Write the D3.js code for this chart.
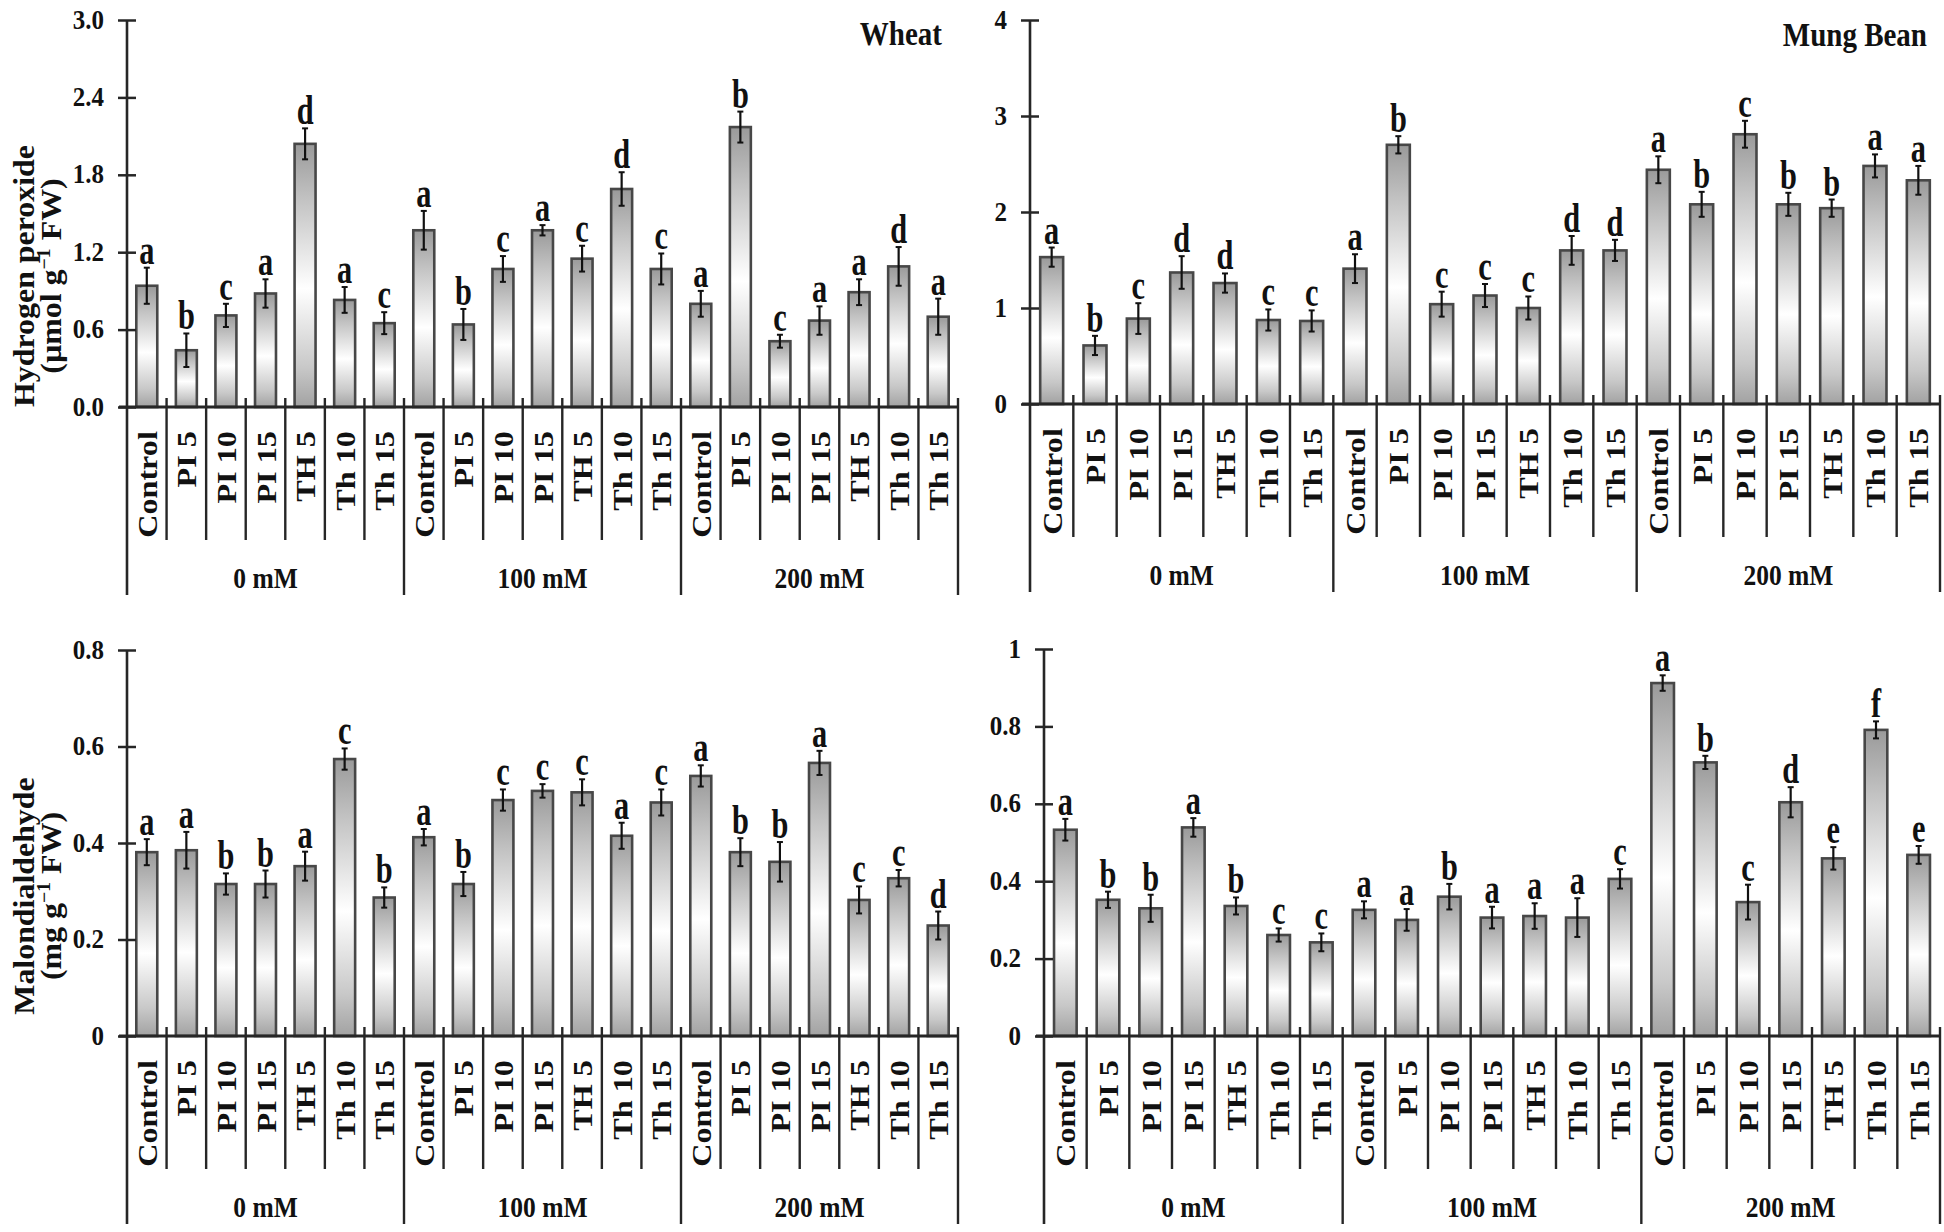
<!DOCTYPE html>
<html><head><meta charset="utf-8">
<script src="https://cdn.jsdelivr.net/npm/d3@7"></script>
<style>
html,body{margin:0;padding:0;background:#fff;}
svg{display:block;}
text{font-family:"Liberation Serif","Times New Roman",Times,serif;font-weight:bold;fill:#111;}
</style></head><body>
<svg id="chart" width="1944" height="1232"></svg>
<script>
// ---------- DATA ----------
const categories = ["Control","PI 5","PI 10","PI 15","TH 5","Th 10","Th 15"];
const salinityLevels = ["0 mM","100 mM","200 mM"];

const wheatH2O2 = [0.94,0.44,0.71,0.88,2.04,0.83,0.65, 1.37,0.64,1.07,1.37,1.15,1.69,1.07, 0.80,2.17,0.51,0.67,0.89,1.09,0.70];
const wheatH2O2Err = [0.14,0.13,0.09,0.11,0.12,0.10,0.085, 0.15,0.12,0.10,0.04,0.10,0.13,0.12, 0.10,0.12,0.05,0.11,0.10,0.15,0.14];
const wheatH2O2Letters = ["a","b","c","a","d","a","c", "a","b","c","a","c","d","c", "a","b","c","a","a","d","a"];

const mungH2O2 = [1.53,0.61,0.89,1.37,1.26,0.875,0.865, 1.41,2.70,1.04,1.13,1.00,1.60,1.60, 2.44,2.08,2.81,2.08,2.04,2.48,2.33];
const mungH2O2Err = [0.10,0.10,0.16,0.17,0.10,0.11,0.11, 0.15,0.09,0.13,0.12,0.12,0.15,0.11, 0.14,0.13,0.14,0.12,0.09,0.12,0.15];
const mungH2O2Letters = ["a","b","c","d","d","c","c", "a","b","c","c","c","d","d", "a","b","c","b","b","a","a"];

const wheatMDA = [0.381,0.385,0.315,0.315,0.352,0.574,0.287, 0.412,0.315,0.489,0.508,0.505,0.415,0.484, 0.539,0.381,0.361,0.566,0.282,0.327,0.229];
const wheatMDAErr = [0.027,0.038,0.022,0.028,0.030,0.022,0.021, 0.017,0.025,0.022,0.014,0.027,0.027,0.027, 0.022,0.029,0.041,0.025,0.028,0.017,0.029];
const wheatMDALetters = ["a","a","b","b","a","c","b", "a","b","c","c","c","a","c", "a","b","b","a","c","c","d"];

const mungMDA = [0.533,0.352,0.330,0.539,0.336,0.261,0.242, 0.326,0.300,0.360,0.306,0.310,0.306,0.406, 0.912,0.707,0.346,0.604,0.459,0.791,0.468];
const mungMDAErr = [0.028,0.021,0.035,0.024,0.022,0.017,0.023, 0.022,0.028,0.033,0.028,0.033,0.050,0.025, 0.020,0.017,0.045,0.039,0.029,0.022,0.023];
const mungMDALetters = ["a","b","b","a","b","c","c", "a","a","b","a","a","a","c", "a","b","c","d","e","f","e"];

const h2o2WheatTicks = [0,0.6,1.2,1.8,2.4,3.0];
const h2o2WheatTickLabels = ["0.0","0.6","1.2","1.8","2.4","3.0"];
const h2o2MungTicks = [0,1,2,3,4];
const h2o2MungTickLabels = ["0","1","2","3","4"];
const mdaWheatTicks = [0,0.2,0.4,0.6,0.8];
const mdaWheatTickLabels = ["0","0.2","0.4","0.6","0.8"];
const mdaMungTicks = [0,0.2,0.4,0.6,0.8,1];
const mdaMungTickLabels = ["0","0.2","0.4","0.6","0.8","1"];

const h2o2Title = ["Hydrogen peroxide", "(µmol g", "−1", " FW)"];
const mdaTitle = ["Malondialdehyde", "(mg g", "−1", " FW)"];

// ---------- LAYOUT ----------
const svg = d3.select("#chart");
const defs = svg.append("defs");
const grad = defs.append("linearGradient").attr("id","barGrad")
  .attr("x1",0).attr("y1",0).attr("x2",0).attr("y2",1);
grad.append("stop").attr("offset","0%").attr("stop-color","#9a9a9a");
grad.append("stop").attr("offset","22%").attr("stop-color","#c4c4c4");
grad.append("stop").attr("offset","55%").attr("stop-color","#ffffff");
grad.append("stop").attr("offset","85%").attr("stop-color","#c8c8c8");
grad.append("stop").attr("offset","100%").attr("stop-color","#a2a2a2");

const panels = [
  {values:wheatH2O2, errors:wheatH2O2Err, letters:wheatH2O2Letters, ticks:h2o2WheatTicks, tickLabels:h2o2WheatTickLabels,
   max:3.0, x0:127, x1:958, yTop:20, yBase:407, title:"Wheat", titleX:942, titleY:45, yTitle:h2o2Title, yTitleC:276},
  {values:mungH2O2, errors:mungH2O2Err, letters:mungH2O2Letters, ticks:h2o2MungTicks, tickLabels:h2o2MungTickLabels,
   max:4, x0:1030, x1:1940, yTop:20, yBase:404, title:"Mung Bean", titleX:1927, titleY:46},
  {values:wheatMDA, errors:wheatMDAErr, letters:wheatMDALetters, ticks:mdaWheatTicks, tickLabels:mdaWheatTickLabels,
   max:0.8, x0:127, x1:958, yTop:650, yBase:1036, yTitle:mdaTitle, yTitleC:896},
  {values:mungMDA, errors:mungMDAErr, letters:mungMDALetters, ticks:mdaMungTicks, tickLabels:mdaMungTickLabels,
   max:1, x0:1044, x1:1940, yTop:649, yBase:1036}
];

const AX = "#262626";

function drawPanel(p){
  const n = p.values.length;
  const g = svg.append("g");
  const slots = d3.scaleBand().domain(d3.range(n)).range([p.x0,p.x1]).padding(0);
  const bars = d3.scaleBand().domain(d3.range(n)).range([p.x0,p.x1]).paddingInner(0.47).paddingOuter(0.235);
  const y = d3.scaleLinear().domain([0,p.max]).range([p.yBase,p.yTop]);
  const cx = i => bars(i) + bars.bandwidth()/2;

  // bars
  g.selectAll("rect.bar").data(p.values).join("rect").attr("class","bar")
    .attr("x",(d,i)=>bars(i)).attr("y",d=>y(d))
    .attr("width",bars.bandwidth()).attr("height",d=>p.yBase-y(d))
    .attr("fill","url(#barGrad)").attr("stroke","#474747").attr("stroke-width",2.6);

  // error bars
  const eg = g.selectAll("g.err").data(p.values).join("g").attr("class","err");
  eg.append("line").attr("x1",(d,i)=>cx(i)).attr("x2",(d,i)=>cx(i))
    .attr("y1",(d,i)=>y(d-p.errors[i])).attr("y2",(d,i)=>y(d+p.errors[i]))
    .attr("stroke","#111").attr("stroke-width",2.2);
  eg.append("line").attr("x1",(d,i)=>cx(i)-3).attr("x2",(d,i)=>cx(i)+3)
    .attr("y1",(d,i)=>y(d+p.errors[i])).attr("y2",(d,i)=>y(d+p.errors[i]))
    .attr("stroke","#111").attr("stroke-width",2);
  eg.append("line").attr("x1",(d,i)=>cx(i)-3).attr("x2",(d,i)=>cx(i)+3)
    .attr("y1",(d,i)=>y(d-p.errors[i])).attr("y2",(d,i)=>y(d-p.errors[i]))
    .attr("stroke","#111").attr("stroke-width",2);

  // significance letters
  g.selectAll("text.sig").data(p.values).join("text").attr("class","sig")
    .attr("transform",(d,i)=>`translate(${cx(i)},${y(d+p.errors[i])-4}) scale(0.92,1.27)`)
    .attr("text-anchor","middle").attr("font-size",33)
    .text((d,i)=>p.letters[i]);

  // y axis ticks + labels
  const ya = g.append("g").attr("transform",`translate(${p.x0},0)`)
    .call(d3.axisLeft(y).tickValues(p.ticks).tickFormat((d,i)=>p.tickLabels[i]).tickSize(9));
  ya.attr("font-size",null).attr("font-family",null);
  ya.select(".domain").remove();
  ya.selectAll(".tick line").attr("x1",9).attr("x2",-9).attr("stroke",AX).attr("stroke-width",2.5);
  ya.selectAll(".tick text").attr("x",null).attr("dy",null).attr("font-size",25).attr("fill","#111")
    .attr("text-anchor","end").attr("transform","translate(-23,8) scale(1,1.12)");

  // y axis line (extends down as first group divider)
  g.append("line").attr("x1",p.x0).attr("x2",p.x0).attr("y1",p.yTop).attr("y2",p.yBase+188)
    .attr("stroke",AX).attr("stroke-width",2.6);
  // x axis line
  g.append("line").attr("x1",p.x0-8).attr("x2",p.x1).attr("y1",p.yBase).attr("y2",p.yBase)
    .attr("stroke",AX).attr("stroke-width",3);

  // separators
  const seps = d3.range(1,n+1);
  g.selectAll("line.sep").data(seps).join("line").attr("class","sep")
    .attr("x1",i=>i<n?slots(i):p.x1).attr("x2",i=>i<n?slots(i):p.x1)
    .attr("y1",p.yBase-9).attr("y2",i=>(i%7===0)?p.yBase+188:p.yBase+133)
    .attr("stroke",AX).attr("stroke-width",2.4);

  // category labels via axis
  const xa = g.append("g").attr("transform",`translate(0,${p.yBase})`)
    .call(d3.axisBottom(slots).tickFormat(i=>categories[i%categories.length]).tickSize(0));
  xa.attr("font-size",null).attr("font-family",null);
  xa.select(".domain").remove();
  xa.selectAll(".tick text").attr("x",0).attr("y",0).attr("dy","0.36em").attr("font-size",28).attr("fill","#111")
    .attr("text-anchor","end").attr("transform","scale(1,1.15) rotate(-90) translate(-21,0)");

  // group labels
  g.selectAll("text.grp").data(salinityLevels).join("text").attr("class","grp")
    .attr("transform",(d,k)=>`translate(${(slots(k*7)+slots(k*7+6)+slots.bandwidth())/2},${p.yBase+181}) scale(1,1.14)`)
    .attr("text-anchor","middle").attr("font-size",25.5).text(d=>d);

  // panel title
  if(p.title){
    g.append("text").attr("transform",`translate(${p.titleX},${p.titleY}) scale(1,1.13)`)
      .attr("text-anchor","end").attr("font-size",29).text(p.title);
  }
  // y title
  if(p.yTitle){
    const t = g.append("g").attr("transform",`translate(34,${p.yTitleC}) scale(1,1.1) rotate(-90)`);
    t.append("text").attr("text-anchor","middle").attr("font-size",29).attr("y",0).text(p.yTitle[0]);
    const t2 = t.append("text").attr("text-anchor","middle").attr("font-size",29).attr("y",27);
    t2.append("tspan").text(p.yTitle[1]);
    t2.append("tspan").attr("font-size",18).attr("dy",-11).text(p.yTitle[2]);
    t2.append("tspan").attr("dy",11).text(p.yTitle[3]);
  }
}
panels.forEach(drawPanel);
</script>
</body></html>
